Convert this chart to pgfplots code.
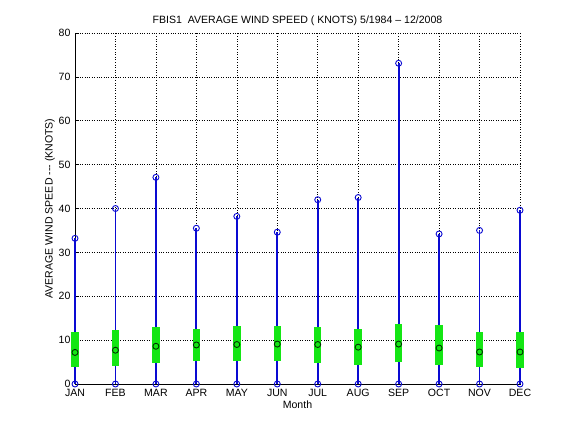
\documentclass[border=0pt]{standalone}
\usepackage{pgfplots}
\pgfplotsset{compat=1.18}
\usepackage{pgfplotstable}
\usepackage{fontspec}
\setmainfont{Liberation Sans}
\definecolor{linec}{RGB}{10,10,210}
\definecolor{boxc}{RGB}{20,230,20}

% month, box low, box high, mean, max
\pgfplotstableread{
m lo hi mean max
1 3.9 11.8 7.2 33.2
2 4.2 12.3 7.7 40.0
3 4.9 13.1 8.6 47.1
4 5.2 12.5 8.9 35.5
5 5.2 13.2 9.0 38.2
6 5.2 13.2 9.1 34.6
7 4.9 13.0 9.0 42.0
8 4.4 12.5 8.4 42.5
9 5.0 13.7 9.1 73.1
10 4.4 13.4 8.2 34.2
11 3.9 11.8 7.3 35.0
12 3.7 11.8 7.3 39.6
}\wind

\begin{document}
\begin{tikzpicture}
\begin{axis}[
    at={(0,0)}, anchor=south west,
    scale only axis,
    width=445bp, height=351bp,
    xmin=1, xmax=12, ymin=0, ymax=80,
    axis x line*=bottom, axis y line*=left,
    axis line style={black, line width=0.6bp, -},
    xtick={1,...,12},
    xticklabels={JAN,FEB,MAR,APR,MAY,JUN,JUL,AUG,SEP,OCT,NOV,DEC},
    ytick={0,10,...,80},
    tick align=inside,
    major tick length=4bp,
    tick style={black, line width=0.6bp},
    xmajorgrids=false, ymajorgrids=true,
    major grid style={black, dotted, line width=0.6bp},
    clip=false,
    font=\fontsize{10.6}{12}\selectfont,
    /pgf/number format/assume math mode=true,
    xticklabel style={yshift=-1.5bp},
    yticklabel style={xshift=-1bp},
    title={FBIS1\ \ AVERAGE WIND SPEED ( KNOTS) 5/1984 -- 12/2008},
    title style={at={(0.5,1)}, anchor=south, yshift=-2bp},
    xlabel={Month},
    xlabel style={at={(axis description cs:0.5,-0.06)}, anchor=center},
    ylabel={AVERAGE WIND SPEED -{}-{}- (KNOTS)},
    ylabel style={at={(axis description cs:-0.0562,0.5)}, anchor=center, rotate=0},
]
% vertical grid lines first, so the data lines lie over them
\pgfplotsinvokeforeach{2,...,12}{
  \draw[black, dotted, line width=0.6bp] (axis cs:#1,0) -- (axis cs:#1,80);
}
\addplot[ycomb, linec, line width=1.8bp, mark=none] table[x=m, y=max] {\wind};
\addplot[boxc, line width=7.5bp, line cap=butt] table {
x y
1 3.9
1 11.8

2 4.2
2 12.3

3 4.9
3 13.1

4 5.2
4 12.5

5 5.2
5 13.2

6 5.2
6 13.2

7 4.9
7 13.0

8 4.4
8 12.5

9 5.0
9 13.7

10 4.4
10 13.4

11 3.9
11 11.8

12 3.7
12 11.8
};
\addplot[only marks, mark=o, mark size=3bp, mark options={linec, line width=0.9bp}] table[x=m, y=max] {\wind};
\addplot[only marks, mark=o, mark size=3bp, mark options={linec, line width=0.9bp}] table[x=m, y expr=0] {\wind};
\addplot[only marks, mark=o, mark size=3bp, mark options={black!80!green, line width=0.9bp}] table[x=m, y=mean] {\wind};
\end{axis}
\path (-75bp,-48bp) rectangle (501bp,384bp);
\end{tikzpicture}
\end{document}
